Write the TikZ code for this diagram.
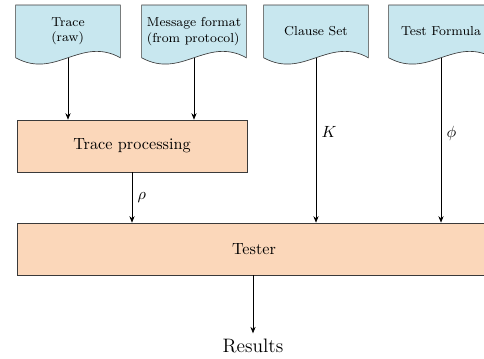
\documentclass[tikz,border=0pt]{standalone}
\usepackage{amsmath}
\usepackage{tikz}
\usetikzlibrary{arrows.meta, positioning, backgrounds}
\definecolor{docblue}{HTML}{C8E7EF}
\definecolor{procpeach}{HTML}{FBD7BA}
\definecolor{edgegray}{HTML}{3A3A3A}

\tikzset{
  docbox/.style={rectangle, minimum width=2.26cm, minimum height=1.13cm,
    anchor=north, font=\footnotesize, align=left, inner sep=2pt},
  docpage/.style={fill=docblue, draw=edgegray},
  procbox/.style={rectangle, fill=procpeach, draw=edgegray,
    minimum height=1.13cm},
  flow/.style={-{Stealth[length=4pt, width=3.2pt]}, thin}
}

\begin{document}
\begin{tikzpicture}[x=0.0217cm, y=-0.0217cm]
  \clip (0,0) rectangle (484,358);
  % inputs
  \node[docbox] (trace) at (68,5) {Trace\\(raw)};
  \node[docbox] (msgfmt) at (194,5) {Message format\\(from protocol)};
  \node[docbox] (clauses) at (316,5) {Clause Set};
  \node[docbox] (formula) at (441,5) {Test Formula};
  \begin{scope}[on background layer]
    \foreach \d in {trace,msgfmt,clauses,formula}
      \draw[docpage] (\d.south west) -- (\d.north west) -- (\d.north east)
        -- (\d.south east) .. controls +(-40,-22) and +(40,22) .. (\d.south west);
  \end{scope}
  % processing
  \node[procbox, minimum width=4.99cm] (proc) at (132,146) {Trace processing};
  \node[procbox, minimum width=10.29cm] (tester) at (254,249) {Tester};
  \node[font=\large] (results) at (253,346) {Results};
  % connectors
  \draw[flow] (trace.south) -- (proc.north -| trace.south);
  \draw[flow] (msgfmt.south) -- (proc.north -| msgfmt.south);
  \draw[flow] (proc.south) -- node[right] {$\rho$} (tester.north -| proc.south);
  \draw[flow] (clauses.south) -- node[right, pos=0.45] {$K$} (tester.north -| clauses.south);
  \draw[flow] (formula.south) -- node[right, pos=0.46] {$\phi$} (tester.north -| formula.south);
  \draw[flow] (tester.south -| results.north) -- (results.north);
\end{tikzpicture}
\end{document}
